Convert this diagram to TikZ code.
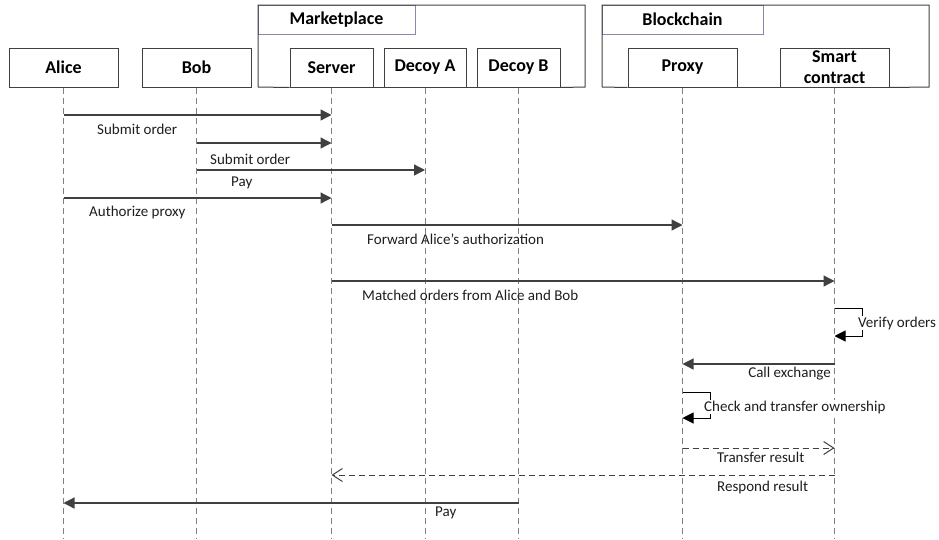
\documentclass[tikz,border=0pt]{standalone}
\usepackage{fontspec}
\setmainfont{Carlito}
\usetikzlibrary{arrows.meta}

\definecolor{linegray}{RGB}{64,64,64}
\definecolor{lifegray}{RGB}{128,128,128}
\definecolor{tabline}{RGB}{135,135,175}
\definecolor{textgray}{RGB}{30,30,30}

\begin{document}
\begin{tikzpicture}[x=1pt,y=-1pt]
\tikzset{
  actor/.style={draw=linegray,line width=1pt,minimum width=109pt,minimum height=39pt,inner sep=0pt,align=center,font=\fontsize{18}{21}\selectfont\bfseries},
  narrow/.style={actor,minimum width=83pt},
  tab/.style={draw=tabline,line width=1pt,minimum width=157pt,minimum height=29pt,inner sep=0pt,font=\fontsize{18}{21}\selectfont\bfseries},
  frame/.style={draw=linegray,line width=1pt},
  lifeline/.style={lifegray,line width=1pt,dash pattern=on 6pt off 4pt},
  msg/.style={linegray,line width=1.3pt,-{Triangle[length=11pt,width=11pt]}},
  selfmsg/.style={black,line width=1pt,-{Triangle[length=11pt,width=11pt]}},
  reply/.style={linegray,line width=1pt,dash pattern=on 6pt off 4pt,-{Straight Barb[length=10pt,width=13pt,line width=1pt]}},
  lbl/.style={inner sep=0pt,anchor=west,text=textgray,font=\fontsize{15}{17}\selectfont},
  selflbl/.style={lbl,fill=white,inner sep=1pt}
}
\useasboundingbox (0,0) rectangle (939,539);

% participants
\node[actor] (n_alice) at (63.5,67.5) {Alice};
\node[actor] (n_bob) at (196.5,67.5) {Bob};
\node[narrow] (n_server) at (331.5,67.5) {Server};
\node[narrow,minimum width=82pt] (n_decoya) at (425,67.5) {Decoy A};
\node[narrow] (n_decoyb) at (518.5,67.5) {Decoy B};
\node[actor] (n_proxy) at (682.5,67.5) {Proxy};
\node[actor] (n_smart) at (834.5,67.5) {Smart\\contract};

% groups
\node[tab] (n_market) at (336.5,19.5) {Marketplace};
\node[tab,minimum width=161pt] (n_chain) at (682.5,19.5) {Blockchain};
\draw[frame] (258,87) -- (258,5) -- (585,5) -- (585,87) -- (n_decoyb.south east);
\draw[frame] (258,87) -- (n_server.south west);
\draw[frame] (602,87) -- (602,5) -- (929,5) -- (929,87) -- (n_smart.south east);
\draw[frame] (602,87) -- (n_proxy.south west);
\draw[frame] (n_proxy.south east) -- (n_smart.south west);
\draw[frame] (n_server.south east) -- (n_decoya.south west);
\draw[frame] (n_decoya.south east) -- (n_decoyb.south west);

% lifelines
\draw[lifeline] (n_alice.south) -- (n_alice.south |- 0,539);
\draw[lifeline] (n_bob.south) -- (n_bob.south |- 0,539);
\draw[lifeline] (n_server.south) -- (n_server.south |- 0,539);
\draw[lifeline] (n_decoya.south) -- (n_decoya.south |- 0,539);
\draw[lifeline] (n_decoyb.south) -- (n_decoyb.south |- 0,539);
\draw[lifeline] (n_proxy.south) -- (n_proxy.south |- 0,539);
\draw[lifeline] (n_smart.south) -- (n_smart.south |- 0,539);

% messages
\draw[msg] (n_alice.south |- 0,115) -- (n_server.south |- 0,115);
\node[lbl] (l_submita) at (97,129) {Submit order};
\draw[msg] (n_bob.south |- 0,143) -- (n_server.south |- 0,143);
\node[lbl] (l_submitb) at (210,159) {Submit order};
\draw[msg] (n_bob.south |- 0,170) -- (n_decoya.south |- 0,170);
\node[lbl] (l_payb) at (231,183) {Pay};
\draw[msg] (n_alice.south |- 0,198) -- (n_server.south |- 0,198);
\node[lbl] (l_auth) at (89,212) {Authorize proxy};
\draw[msg] (n_server.south |- 0,225) -- (n_proxy.south |- 0,225);
\node[lbl] (l_fwd) at (367,239) {Forward Alice's authorization};
\draw[msg] (n_server.south |- 0,281) -- (n_smart.south |- 0,281);
\node[lbl] (l_match) at (362,295) {Matched orders from Alice and Bob};
\draw[selfmsg] (n_smart.south |- 0,308) -- ++(28,0) -- ++(0,28) -- (n_smart.south |- 0,336);
\node[selflbl] (l_verify) at (857,323) {Verify orders};
\draw[msg] (n_smart.south |- 0,364) -- (n_proxy.south |- 0,364);
\node[lbl,anchor=east] (l_call) at (831,374) {Call exchange};
\draw[selfmsg] (n_proxy.south |- 0,392) -- ++(28,0) -- ++(0,26) -- (n_proxy.south |- 0,418);
\node[selflbl] (l_check) at (703,407) {Check and transfer ownership};
\draw[reply] (n_proxy.south |- 0,448) -- (n_smart.south |- 0,448);
\node[lbl] (l_transfer) at (717,457) {Transfer result};
\draw[reply] (n_smart.south |- 0,475) -- (n_server.south |- 0,475);
\node[lbl] (l_respond) at (717,487) {Respond result};
\draw[msg] (n_decoyb.south |- 0,503) -- (n_alice.south |- 0,503);
\node[lbl] (l_paya) at (435,513) {Pay};
\end{tikzpicture}
\end{document}
